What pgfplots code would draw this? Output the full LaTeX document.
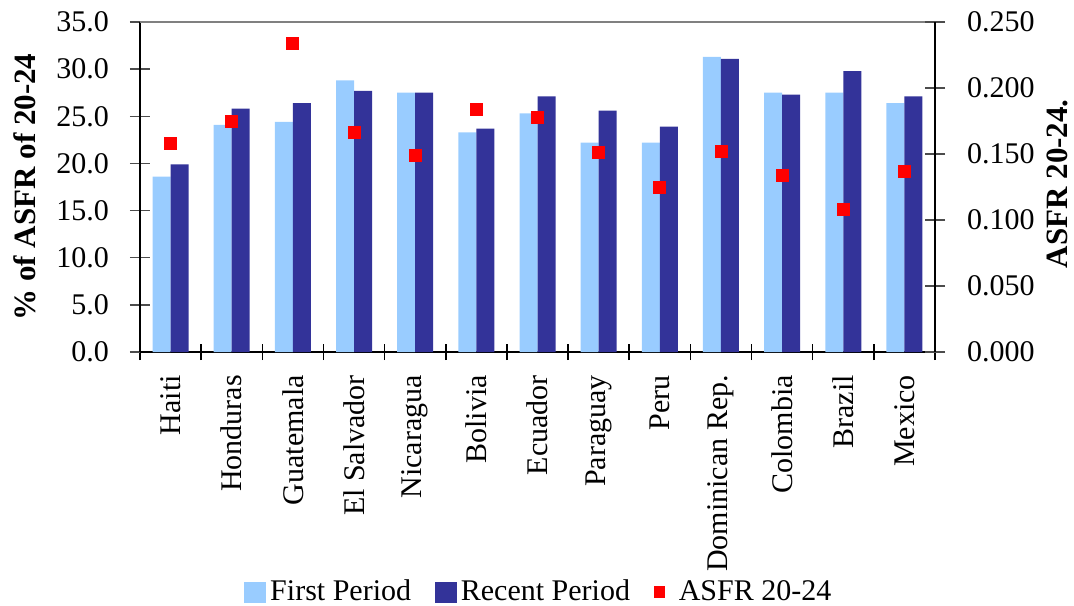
\documentclass[border=0pt]{standalone}
\usepackage{fontspec}
\setmainfont{Liberation Serif}
\usepackage{pgfplots}
\pgfplotsset{compat=1.18}
\definecolor{lightb}{HTML}{99CCFF}
\definecolor{darkb}{HTML}{333399}
\newcommand\ff{\fontsize{15}{18}\selectfont}
\newcommand\fb{\fontsize{15.5}{18}\selectfont\bfseries}
\begin{document}
\begin{tikzpicture}
\begin{axis}[
  scale only axis, width=397.5pt, height=165pt,
  at={(0,0)}, anchor=south west,
  xmin=-0.5, xmax=12.5, ymin=0, ymax=35,
  ybar=0pt, bar width=9pt, clip=false,
  axis x line*=bottom, axis y line*=left,
  axis line style={-, line width=0.75pt},
  xtick={0,...,12},
  xticklabels={Haiti,Honduras,Guatemala,El Salvador,Nicaragua,Bolivia,Ecuador,Paraguay,Peru,Dominican Rep.,Colombia,Brazil,Mexico},
  major x tick style={draw=none},
  minor xtick={-0.5,0.5,...,12.5},
  minor x tick style={line width=0.75pt, black},
  minor tick length=8pt,
  ytick={0,5,...,35},
  major tick length=10pt, tick align=center,
  major y tick style={line width=0.75pt, black!70},
  yticklabel style={font=\ff, /pgf/number format/.cd, fixed, fixed zerofill, precision=1, assume math mode=true},
  yticklabel shift=7pt,
  xticklabel style={font=\ff, rotate=90, anchor=east},
  xticklabel shift=3pt,
  ylabel={\% of ASFR of 20-24},
  ylabel style={font=\fb, at={(axis description cs:0,0.5)}, anchor=center, yshift=57.5pt},
]
\addplot[fill=lightb, draw=none] coordinates {
(0,18.6) (1,24.1) (2,24.4) (3,28.8) (4,27.5) (5,23.3) (6,25.3)
(7,22.2) (8,22.2) (9,31.3) (10,27.5) (11,27.5) (12,26.4)};
\addplot[fill=darkb, draw=none] coordinates {
(0,19.9) (1,25.8) (2,26.4) (3,27.7) (4,27.5) (5,23.7) (6,27.1)
(7,25.6) (8,23.9) (9,31.1) (10,27.3) (11,29.8) (12,27.1)};
\draw[gray, line width=0.75pt] (rel axis cs:0,1) -- (rel axis cs:1,1);
\coordinate (SW) at (rel axis cs:0,0);
\end{axis}
\begin{axis}[
  scale only axis, width=397.5pt, height=165pt,
  at={(0,0)}, anchor=south west,
  xmin=-0.5, xmax=12.5, ymin=0, ymax=0.25,
  axis x line=none, axis y line*=right,
  axis line style={-, line width=0.75pt},
  ytick={0,0.05,0.1,0.15,0.2,0.25},
  major tick length=10pt, tick align=center,
  major y tick style={line width=0.75pt, black!70},
  yticklabel style={font=\ff, /pgf/number format/.cd, fixed, fixed zerofill, precision=3, assume math mode=true},
  yticklabel shift=7.5pt,
  ylabel={ASFR 20-24.},
  ylabel style={font=\fb, at={(axis description cs:1,0.51)}, anchor=center, yshift=-61pt},
  legend columns=3,
  legend style={at={(axis description cs:0.503,0)}, yshift=-120pt, anchor=center, draw=none, font=\ff,
    /tikz/every even column/.append style={column sep=10pt}},
]
\addlegendimage{legend image code/.code={\fill[lightb] (0pt,-5pt) rectangle (10.5pt,5pt);}}
\addlegendentry{First Period}
\addlegendimage{legend image code/.code={\fill[darkb] (0pt,-5pt) rectangle (10.5pt,5pt);}}
\addlegendentry{Recent Period}
\addplot[only marks, mark=square*, mark size=3pt, color=red,
  legend image code/.code={\fill[red] (0pt,-2.7pt) rectangle (5pt,2.7pt);}] coordinates {
(0,0.158) (1,0.175) (2,0.234) (3,0.166) (4,0.149) (5,0.184) (6,0.178)
(7,0.151) (8,0.125) (9,0.152) (10,0.134) (11,0.108) (12,0.137)};
\addlegendentry{\hspace{5pt}ASFR 20-24}
\end{axis}
\pgfresetboundingbox
\useasboundingbox (SW) ++(-70pt,-126.5pt) rectangle ++(537pt,302.5pt);
\end{tikzpicture}
\end{document}
